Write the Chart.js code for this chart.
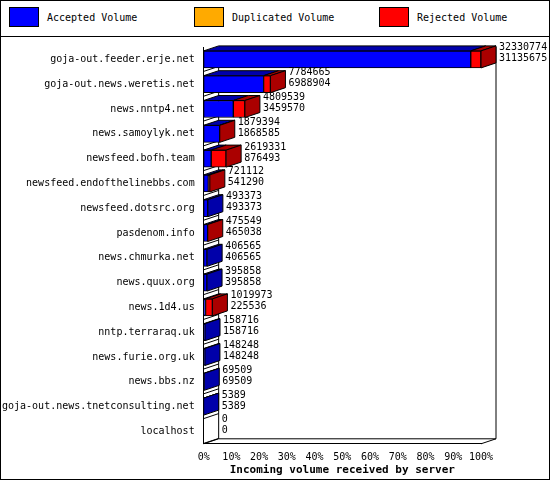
<!DOCTYPE html>
<html>
<head>
<meta charset="utf-8">
<script src="https://cdn.jsdelivr.net/npm/chart.js@4/dist/chart.umd.min.js"></script>
<style>
  body { margin: 0; background: #fff; }
  #frame { position: relative; width: 548px; height: 478px; border: 1px solid #000; font-family: "DejaVu Sans Mono", monospace; font-size: 10px; }
  #legend { height: 35px; border-bottom: 1px solid #000; position: relative; }
  .item { position: absolute; top: 6px; display: flex; align-items: center; }
  .box { width: 28px; height: 18px; border: 1px solid #000; margin-right: 8px; }
  #chart-wrap { position: absolute; left: 0; top: 36px; width: 548px; height: 440px; }
</style>
</head>
<body>
<div id="frame">
  <div id="legend">
    <div class="item" style="left:8px"><div class="box" style="background:#0000ff"></div>Accepted Volume</div>
    <div class="item" style="left:193px"><div class="box" style="background:#ffaa00"></div>Duplicated Volume</div>
    <div class="item" style="left:378px"><div class="box" style="background:#ff0000"></div>Rejected Volume</div>
  </div>
  <div id="chart-wrap"><canvas id="myChart"></canvas></div>
</div>
<script>
let servers = ["goja-out.feeder.erje.net", "goja-out.news.weretis.net", "news.nntp4.net", "news.samoylyk.net",
  "newsfeed.bofh.team", "newsfeed.endofthelinebbs.com", "newsfeed.dotsrc.org", "pasdenom.info",
  "news.chmurka.net", "news.quux.org", "news.1d4.us", "nntp.terraraq.uk", "news.furie.org.uk",
  "news.bbs.nz", "goja-out.news.tnetconsulting.net", "localhost"]
let totalVolume = [32330774, 7784665, 4809539, 1879394, 2619331, 721112, 493373, 475549,
  406565, 395858, 1019973, 158716, 148248, 69509, 5389, 0]
let acceptedVolume = [31135675, 6988904, 3459570, 1868585, 876493, 541290, 493373, 465038,
  406565, 395858, 225536, 158716, 148248, 69509, 5389, 0]
let tickLabels = ["0%", "10%", "20%", "30%", "40%", "50%", "60%", "70%", "80%", "90%", "100%"]

let maxVolume = Math.max(...totalVolume)
let acceptedPct = acceptedVolume.map(v => v / maxVolume * 100)
let rejectedPct = totalVolume.map((v, i) => (v - acceptedVolume[i]) / maxVolume * 100)

const DX = 15, DY = 5
let darkColors = ["#0000aa", "#aa0000"]

let depthPlugin = {
  id: "depth",
  beforeDatasetsDraw(chart) {
    let ctx = chart.ctx
    let area = chart.chartArea
    ctx.save()
    ctx.strokeStyle = "#000"
    ctx.lineWidth = 1
    // back wall line and floor
    ctx.beginPath()
    ctx.moveTo(area.left + DX, area.top)
    ctx.lineTo(area.left + DX, area.bottom - DY)
    ctx.lineTo(area.right + DX, area.bottom - DY)
    ctx.lineTo(area.right + DX, area.top)
    ctx.moveTo(area.left, area.bottom)
    ctx.lineTo(area.left + DX, area.bottom - DY)
    ctx.moveTo(area.right, area.bottom)
    ctx.lineTo(area.right + DX, area.bottom - DY)
    ctx.stroke()
    // slanted lines on left wall
    let yScale = chart.scales.y
    servers.forEach((s, i) => {
      let y = yScale.getPixelForValue(i) + 12
      ctx.beginPath()
      ctx.moveTo(area.left, y)
      ctx.lineTo(area.left + DX, y - DY)
      ctx.stroke()
    })
    ctx.restore()
  },
  afterDatasetsDraw(chart) {
    let ctx = chart.ctx
    ctx.save()
    ctx.strokeStyle = "#000"
    ctx.lineWidth = 1
    servers.forEach((s, i) => {
      let last = null
      chart.data.datasets.forEach((ds, d) => {
        let el = chart.getDatasetMeta(d).data[i]
        if (!ds.data[i]) return
        let top = el.y - el.height / 2
        ctx.fillStyle = darkColors[d]
        ctx.beginPath()
        ctx.moveTo(el.base, top)
        ctx.lineTo(el.base + DX, top - DY)
        ctx.lineTo(el.x + DX, top - DY)
        ctx.lineTo(el.x, top)
        ctx.closePath()
        ctx.fill()
        ctx.stroke()
        last = { el, d }
      })
      let endX
      let top
      if (last) {
        let el = last.el
        top = el.y - el.height / 2
        ctx.fillStyle = darkColors[last.d]
        ctx.beginPath()
        ctx.moveTo(el.x, top)
        ctx.lineTo(el.x + DX, top - DY)
        ctx.lineTo(el.x + DX, top - DY + el.height)
        ctx.lineTo(el.x, top + el.height)
        ctx.closePath()
        ctx.fill()
        ctx.stroke()
        endX = el.x + DX
      } else {
        let el = chart.getDatasetMeta(0).data[i]
        top = el.y - el.height / 2
        endX = el.base + DX
      }
      ctx.fillStyle = "#000"
      ctx.font = "10px 'DejaVu Sans Mono', monospace"
      ctx.textBaseline = "middle"
      ctx.fillText(String(totalVolume[i]), endX + 3, top - 3)
      ctx.fillText(String(acceptedVolume[i]), endX + 3, top + 8)
    })
    ctx.restore()
  }
}

let ctx = document.getElementById("myChart").getContext("2d")
let chart = new Chart(ctx, {
  type: "bar",
  data: {
    labels: servers,
    datasets: [
      { label: "Accepted Volume", data: acceptedPct, backgroundColor: "#0000ff", borderColor: "#000", borderWidth: 1, borderSkipped: false },
      { label: "Rejected Volume", data: rejectedPct, backgroundColor: "#ff0000", borderColor: "#000", borderWidth: 1, borderSkipped: false }
    ]
  },
  options: {
    indexAxis: "y",
    responsive: true,
    maintainAspectRatio: false,
    animation: false,
    layout: { padding: { left: 0, right: 68, top: 10, bottom: 0 } },
    datasets: { bar: { barThickness: 17 } },
    plugins: { legend: { display: false }, tooltip: { enabled: false } },
    scales: {
      x: {
        stacked: true, min: 0, max: 100,
        grid: { display: false },
        border: { color: "#000" },
        ticks: { stepSize: 10, color: "#000", font: { family: "DejaVu Sans Mono", size: 10 }, callback: (v, i) => tickLabels[i], maxRotation: 0, padding: 0 },
        title: { display: true, text: "Incoming volume received by server", color: "#000", font: { family: "DejaVu Sans Mono", size: 11, weight: "bold" }, padding: 0 }
      },
      y: {
        stacked: true,
        grid: { display: false },
        border: { color: "#000" },
        ticks: { color: "#000", font: { family: "DejaVu Sans Mono", size: 10 }, autoSkip: false, padding: 1 }
      }
    }
  },
  plugins: [depthPlugin]
})
</script>
</body>
</html>
